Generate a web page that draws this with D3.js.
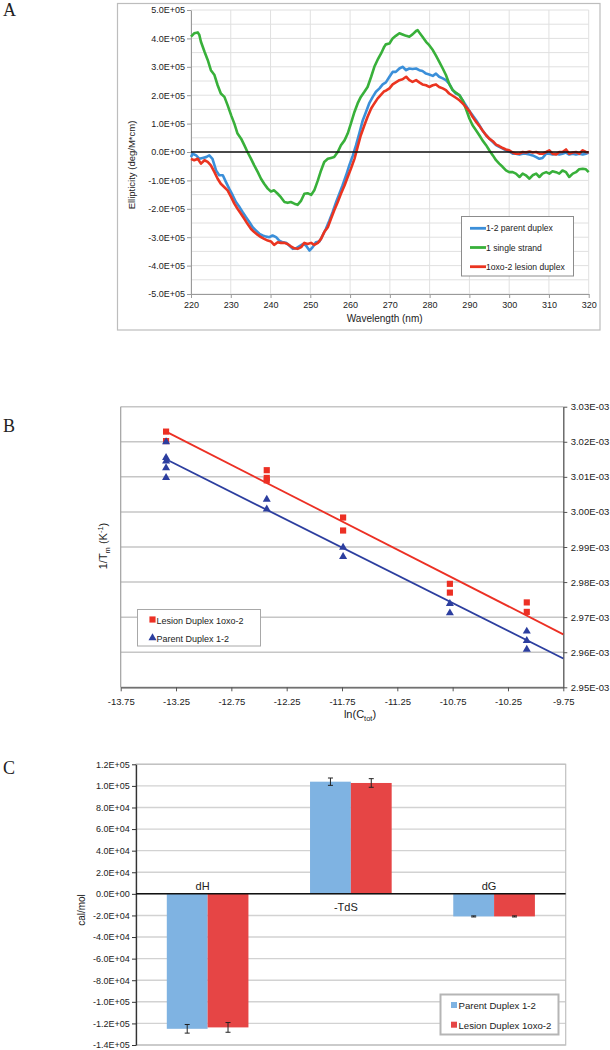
<!DOCTYPE html>
<html><head><meta charset="utf-8">
<script src="https://cdn.jsdelivr.net/npm/d3@7"></script>
<style>
body{margin:0;background:#fff}
svg{display:block}
text{font-family:"Liberation Sans",Arial,Helvetica,sans-serif;fill:#222}
</style>
</head><body>
<svg id="c" width="610" height="1050"></svg>
<script>
// ---------------- DATA ----------------
// Panel A: CD spectra, values in units of 1e5 deg/(M*cm)
const CD_UNIT = 1e5;
const parentDuplex = [[220.0,-0.18],[220.4,-0.06],[221.3,-0.12],[222.1,-0.24],[222.9,-0.21],[223.8,-0.18],[224.6,-0.12],[225.4,-0.24],[226.3,-0.65],[227.1,-0.82],[228.0,-0.82],[228.8,-1.06],[229.6,-1.29],[230.5,-1.53],[231.3,-1.76],[232.2,-1.94],[233.0,-2.12],[233.8,-2.29],[234.7,-2.47],[235.5,-2.65],[236.3,-2.76],[237.2,-2.88],[238.0,-2.94],[238.9,-2.98],[239.7,-3.0],[240.5,-2.94],[241.4,-3.0],[242.2,-3.12],[243.1,-3.18],[243.9,-3.2],[244.7,-3.29],[245.6,-3.41],[246.4,-3.39],[247.2,-3.32],[248.1,-3.24],[248.9,-3.29],[249.8,-3.47],[250.6,-3.35],[251.4,-3.18],[252.3,-3.15],[253.1,-2.94],[253.9,-2.71],[254.8,-2.41],[255.6,-2.12],[256.5,-1.76],[257.3,-1.47],[258.1,-1.18],[259.0,-0.82],[259.8,-0.47],[260.7,-0.12],[261.5,0.24],[262.3,0.65],[263.2,1.12],[264.0,1.41],[264.8,1.71],[265.7,1.94],[266.5,2.12],[267.4,2.24],[268.2,2.38],[269.0,2.45],[269.9,2.65],[270.7,2.82],[271.5,2.82],[272.4,2.94],[273.2,3.0],[274.1,2.88],[274.9,2.94],[275.7,2.92],[276.6,2.94],[277.4,2.88],[278.2,2.85],[279.1,2.76],[279.9,2.73],[280.8,2.68],[281.6,2.76],[282.4,2.65],[283.3,2.59],[284.1,2.53],[284.9,2.41],[285.8,2.18],[286.6,2.06],[287.5,2.0],[288.3,1.82],[289.1,1.65],[290.0,1.44],[290.8,1.29],[291.7,1.12],[292.5,0.94],[293.3,0.76],[294.2,0.59],[295.0,0.47],[295.9,0.35],[296.7,0.24],[297.5,0.18],[298.4,0.12],[299.2,0.06],[300.0,0.02],[300.9,-0.06],[301.7,-0.06],[302.6,-0.09],[303.4,-0.06],[304.2,-0.06],[305.1,-0.09],[305.9,-0.12],[306.8,-0.18],[307.6,-0.24],[308.4,-0.21],[309.3,-0.06],[310.1,-0.06],[310.9,-0.09],[311.8,-0.06],[312.6,-0.09],[313.4,-0.06],[314.3,-0.02],[315.1,-0.09],[316.0,-0.06],[316.8,-0.09],[317.6,-0.06],[318.5,-0.09],[319.3,-0.06],[320.0,-0.02]];
const singleStrand = [[220.0,4.06],[220.8,4.18],[221.7,4.21],[222.1,4.12],[222.5,3.88],[223.4,3.53],[224.2,3.24],[225.0,2.88],[225.9,2.71],[226.7,2.35],[227.5,2.06],[228.4,1.94],[229.2,1.65],[230.1,1.29],[230.9,1.0],[231.7,0.65],[232.6,0.47],[233.4,0.24],[234.2,0.0],[235.1,-0.24],[235.9,-0.47],[236.8,-0.71],[237.6,-0.94],[238.4,-1.12],[239.3,-1.29],[240.1,-1.39],[240.9,-1.35],[241.8,-1.47],[242.6,-1.59],[243.5,-1.76],[244.3,-1.79],[245.1,-1.76],[246.0,-1.82],[246.8,-1.86],[247.7,-1.71],[248.5,-1.47],[249.3,-1.45],[250.2,-1.51],[251.0,-1.35],[251.9,-1.0],[252.7,-0.65],[253.5,-0.35],[254.4,-0.24],[255.2,-0.21],[256.0,-0.18],[256.9,0.0],[257.7,0.24],[258.6,0.41],[259.4,0.65],[260.2,1.0],[261.1,1.41],[261.9,1.71],[262.7,1.94],[263.6,2.12],[264.4,2.29],[265.3,2.65],[266.1,3.0],[266.9,3.24],[267.8,3.47],[268.6,3.71],[269.0,3.79],[269.9,3.82],[270.7,4.0],[271.5,4.09],[272.4,4.18],[273.2,4.14],[274.1,4.09],[274.9,4.06],[275.7,4.14],[276.6,4.26],[277.0,4.29],[277.4,4.21],[278.2,4.06],[279.1,3.88],[279.9,3.76],[280.8,3.59],[281.6,3.39],[282.4,3.18],[283.3,2.94],[284.1,2.71],[284.9,2.41],[285.8,2.18],[286.6,2.09],[287.5,2.0],[288.3,1.82],[289.1,1.53],[290.0,1.18],[290.8,0.94],[291.7,0.76],[292.5,0.59],[293.3,0.41],[294.2,0.24],[295.0,0.06],[295.9,-0.12],[296.7,-0.29],[297.5,-0.41],[298.4,-0.53],[299.2,-0.65],[300.0,-0.71],[300.9,-0.71],[301.7,-0.76],[302.6,-0.88],[303.4,-0.76],[304.2,-0.82],[305.1,-0.94],[305.9,-0.82],[306.8,-0.76],[307.6,-0.88],[308.4,-0.76],[309.3,-0.71],[310.1,-0.76],[310.9,-0.68],[311.8,-0.71],[312.6,-0.76],[313.4,-0.65],[314.3,-0.71],[315.1,-0.88],[316.0,-0.76],[316.8,-0.71],[317.6,-0.61],[318.5,-0.59],[319.3,-0.61],[320.0,-0.71]];
const lesionDuplex = [[220.0,-0.24],[220.8,-0.29],[221.7,-0.24],[222.5,-0.41],[223.4,-0.29],[224.2,-0.35],[225.0,-0.47],[225.9,-0.71],[226.7,-0.94],[227.5,-1.12],[228.4,-1.24],[229.2,-1.35],[230.1,-1.59],[230.9,-1.82],[231.7,-2.0],[232.6,-2.18],[233.4,-2.35],[234.2,-2.53],[235.1,-2.71],[235.9,-2.82],[236.8,-2.92],[237.6,-3.0],[238.4,-3.06],[239.3,-3.12],[240.1,-3.15],[240.9,-3.27],[241.8,-3.18],[242.6,-3.2],[243.5,-3.2],[244.3,-3.24],[245.1,-3.32],[246.0,-3.39],[246.8,-3.41],[247.7,-3.35],[248.5,-3.2],[249.3,-3.24],[250.2,-3.2],[251.0,-3.27],[251.9,-3.2],[252.7,-3.06],[253.5,-2.82],[254.4,-2.65],[255.2,-2.35],[256.0,-2.06],[256.9,-1.76],[257.7,-1.47],[258.6,-1.18],[259.4,-0.88],[260.2,-0.59],[261.1,-0.24],[261.9,0.18],[262.7,0.59],[263.6,0.94],[264.4,1.24],[265.3,1.53],[266.1,1.71],[266.9,1.88],[267.8,2.02],[268.6,2.14],[269.0,2.16],[269.9,2.24],[270.7,2.38],[271.5,2.45],[272.4,2.53],[273.2,2.56],[274.1,2.65],[274.9,2.53],[275.7,2.47],[276.6,2.53],[277.4,2.45],[278.2,2.38],[279.1,2.35],[279.9,2.29],[280.8,2.35],[281.6,2.38],[282.4,2.29],[283.3,2.24],[284.1,2.18],[284.9,2.06],[285.8,1.98],[286.6,1.91],[287.5,1.82],[288.3,1.71],[289.1,1.59],[290.0,1.44],[290.8,1.24],[291.7,1.06],[292.5,0.92],[293.3,0.76],[294.2,0.59],[295.0,0.47],[295.9,0.38],[296.7,0.26],[297.5,0.21],[298.4,0.14],[299.2,0.09],[300.0,0.06],[300.9,-0.02],[301.7,-0.06],[302.6,-0.06],[303.4,0.0],[304.2,-0.02],[305.1,0.02],[305.9,-0.02],[306.8,0.0],[307.6,-0.06],[308.4,-0.06],[309.3,0.0],[310.1,0.06],[310.9,-0.06],[311.8,-0.09],[312.6,0.0],[313.4,0.0],[314.3,0.09],[315.1,-0.06],[316.0,-0.02],[316.8,0.0],[317.6,-0.06],[318.5,0.06],[319.3,0.0],[320.0,-0.02]];
const cdSeriesNames = ["1-2 parent duplex","1 single strand","1oxo-2 lesion duplex"];
const cdXTicks = [220,230,240,250,260,270,280,290,300,310,320];

// Panel B: van't Hoff data, 1/Tm in units of 1e-3 K^-1
const TM_UNIT = 1e-3;
const lnCtot = [-13.34, -12.43, -11.74, -10.775, -10.08];
const lesionInvTm = [[3.0229,3.0202],[3.0119,3.0097,3.0090],[2.9984,2.9947],[2.9795,2.9770],[2.9742,2.9715]];
const parentInvTm = [[3.0202,3.0157,3.0147,3.0128,3.0100],[3.0038,3.0010],[2.9901,2.9875],[2.9741,2.9714],[2.9662,2.9635,2.9610]];
const lesionFit = [[-13.34,3.0229],[-9.75,2.9651]];
const parentFit = [[-13.34,3.0150],[-9.75,2.9582]];
const lnXTicks = [-13.75,-13.25,-12.75,-12.25,-11.75,-11.25,-10.75,-10.25,-9.75];
const invTmTicks = [2.95,2.96,2.97,2.98,2.99,3.00,3.01,3.02,3.03];
const vhNames = ["Lesion Duplex 1oxo-2","Parent Duplex 1-2"];

// Panel C: thermodynamic parameters (cal/mol)
const thermoCats = ["dH","-TdS","dG"];
const parentThermo = [-125000, 103900, -20900];
const lesionThermo = [-123700, 102700, -20900];
const parentErr = [4000, 3400, 500];
const lesionErr = [4500, 4000, 500];
const thermoNames = ["Parent Duplex 1-2","Lesion Duplex 1oxo-2"];

// ---------------- HELPERS ----------------
const svg = d3.select('#c');
function sci(d){ return v => { if (Math.abs(v) < 1e-15) v = 0; const [m,e] = v.toExponential(d).split('e'); const s = e[0]==='-'?'-':'+'; return m+'E'+s+e.replace(/[+-]/,'').padStart(2,'0'); }; }
function styleAxis(g, fs, domainColor, tickColor){
  g.attr('font-family', null).attr('font-size', null);
  g.selectAll('text').attr('font-size', fs).style('fill','#222');
  g.select('.domain').attr('stroke', domainColor).attr('stroke-width',1);
  g.selectAll('.tick line').attr('stroke', tickColor);
}
function label(x,y,txt,opts={}){
  const t = svg.append('text').attr('x',x).attr('y',y).text(txt)
    .attr('font-size',opts.size||10).attr('text-anchor',opts.anchor||'middle');
  if (opts.rot) t.attr('transform',`rotate(-90,${x},${y})`);
  if (opts.family) t.style('font-family',opts.family);
  return t;
}

// ---------------- PANEL A ----------------
const cdColors = ['#3b8fd9','#38b03a','#ea3420'];
const A = {l:191, r:588.7, t:10, b:294};
const xA = d3.scaleLinear().domain([220,320]).range([A.l,A.r]);
const yA = d3.scaleLinear().domain([-5*CD_UNIT,5*CD_UNIT]).range([A.b,A.t]);
svg.append('rect').attr('x',117.5).attr('y',3.5).attr('width',482.5).attr('height',326.5)
  .attr('fill','none').attr('stroke','#bdbdbd').attr('stroke-width',1.2);
const gA = svg.append('g');
gA.selectAll('.hg').data(d3.range(-10,11).map(k=>k*CD_UNIT/2)).join('line')
  .attr('x1',A.l).attr('x2',A.r).attr('y1',d=>yA(d)).attr('y2',d=>yA(d))
  .attr('stroke','#e0e0e0').attr('stroke-width',1);
gA.selectAll('.vg').data(cdXTicks).join('line')
  .attr('x1',d=>xA(d)).attr('x2',d=>xA(d)).attr('y1',A.t).attr('y2',A.b)
  .attr('stroke','#e0e0e0').attr('stroke-width',1);
const axA_y = svg.append('g').attr('transform',`translate(${A.l},0)`)
  .call(d3.axisLeft(yA).tickValues(d3.range(-5,6).map(k=>k*CD_UNIT)).tickFormat(sci(1)).tickSize(4).tickSizeOuter(0).tickPadding(2));
styleAxis(axA_y, 9, '#9a9a9a', '#9a9a9a');
const axA_x = svg.append('g').attr('transform',`translate(0,${A.b})`)
  .call(d3.axisBottom(xA).tickValues(cdXTicks).tickFormat(d=>String(d)).tickSize(4).tickSizeOuter(0).tickPadding(4));
styleAxis(axA_x, 9, '#9a9a9a', '#9a9a9a');
const lineA = d3.line().x(d=>xA(d[0])).y(d=>yA(d[1]*CD_UNIT));
[parentDuplex, singleStrand, lesionDuplex].forEach((s,i)=>{
  svg.append('path').datum(s).attr('d',lineA).attr('fill','none')
    .attr('stroke',cdColors[i]).attr('stroke-width',2.6).attr('stroke-linejoin','round');
});
svg.append('line').attr('x1',A.l).attr('x2',A.r).attr('y1',yA(0)).attr('y2',yA(0))
  .attr('stroke','#111').attr('stroke-width',1.3);
label(384.7,321.5,'Wavelength (nm)',{size:10});
label(134.5,165,'Ellipticity (deg/M*cm)',{size:9.5,rot:true});
// legend A
const lgA = svg.append('g');
lgA.append('rect').attr('x',461.5).attr('y',216.5).attr('width',112).attr('height',59.5)
  .attr('fill','#fff').attr('stroke','#8c8c8c').attr('stroke-width',1);
cdSeriesNames.forEach((n,i)=>{
  const y = 228.3 + i*19.2;
  lgA.append('line').attr('x1',470).attr('x2',486).attr('y1',y).attr('y2',y)
    .attr('stroke',cdColors[i]).attr('stroke-width',2.8);
  lgA.append('text').attr('x',486).attr('y',y+3).attr('font-size',8.6).text(n);
});
label(3,16,'A',{size:18,anchor:'start',family:'"Liberation Serif","Times New Roman",serif'});

// ---------------- PANEL B ----------------
const B = {l:120.7, r:563.3, t:406.7, b:687.3};
const xB = d3.scaleLinear().domain([-13.75,-9.75]).range([B.l,B.r]);
const yB = d3.scaleLinear().domain([2.95*TM_UNIT,3.03*TM_UNIT]).range([B.b,B.t]);
const yBt = invTmTicks.map(v=>v*TM_UNIT);
svg.append('g').selectAll('line').data(yBt).join('line')
  .attr('x1',B.l).attr('x2',B.r).attr('y1',d=>yB(d)).attr('y2',d=>yB(d))
  .attr('stroke','#c6c6c6').attr('stroke-width',1.5);
svg.append('line').attr('x1',B.l).attr('x2',B.l).attr('y1',B.t).attr('y2',B.b)
  .attr('stroke','#a0a0a0').attr('stroke-width',1.2);
const axB_x = svg.append('g').attr('transform',`translate(0,${B.b})`)
  .call(d3.axisBottom(xB).tickValues(lnXTicks).tickFormat(d=>d.toFixed(2)).tickSize(4).tickSizeOuter(0).tickPadding(7));
styleAxis(axB_x, 9.5, '#555', '#555');
axB_x.select('.domain').attr('stroke-width',1.3);
const axB_y = svg.append('g').attr('transform',`translate(${B.r},0)`)
  .call(d3.axisRight(yB).tickValues(yBt).tickFormat(sci(2)).tickSize(4).tickSizeOuter(0).tickPadding(3.4));
styleAxis(axB_y, 9.5, '#555', '#555');
axB_y.select('.domain').attr('stroke-width',1.3);
const lineB = d3.line().x(d=>xB(d[0])).y(d=>yB(d[1]*TM_UNIT));
const redB = '#ec3024', blueB = '#2c3e9f';
svg.append('path').datum(lesionFit).attr('d',lineB).attr('stroke',redB).attr('stroke-width',1.8).attr('fill','none');
svg.append('path').datum(parentFit).attr('d',lineB).attr('stroke',blueB).attr('stroke-width',1.8).attr('fill','none');
const lesionPts = lnCtot.flatMap((x,i)=>lesionInvTm[i].map(v=>[x,v]));
const parentPts = lnCtot.flatMap((x,i)=>parentInvTm[i].map(v=>[x,v]));
const sq = d3.symbol().type(d3.symbolSquare).size(38);
const tri = d3.symbol().type(d3.symbolTriangle).size(28);
svg.append('g').selectAll('path').data(lesionPts).join('path')
  .attr('d',sq).attr('transform',d=>`translate(${xB(d[0])},${yB(d[1]*TM_UNIT)})`).attr('fill',redB);
svg.append('g').selectAll('path').data(parentPts).join('path')
  .attr('d',tri).attr('transform',d=>`translate(${xB(d[0])},${yB(d[1]*TM_UNIT)+0.8})`).attr('fill',blueB);
// axis titles
const tB = svg.append('text').attr('x',360).attr('y',718).attr('text-anchor','middle').attr('font-size',11);
tB.append('tspan').text('ln(C');
tB.append('tspan').text('tot').attr('font-size',7.5).attr('dy',2.5);
tB.append('tspan').text(')').attr('dy',-2.5);
const yTB = svg.append('text').attr('x',107).attr('y',546).attr('text-anchor','middle').attr('font-size',11)
  .attr('transform','rotate(-90,107,546)');
yTB.append('tspan').text('1/T');
yTB.append('tspan').text('m').attr('font-size',7.5).attr('dy',2.5);
yTB.append('tspan').text(' (K').attr('dy',-2.5);
yTB.append('tspan').text('-1').attr('font-size',7.5).attr('dy',-4);
yTB.append('tspan').text(')').attr('dy',4);
// legend B
const lgB = svg.append('g');
lgB.append('rect').attr('x',137.5).attr('y',609.5).attr('width',123).attr('height',36.5)
  .attr('fill','#fff').attr('stroke','#a8a8a8').attr('stroke-width',1);
lgB.append('path').attr('d',sq).attr('transform','translate(152.5,619.5)').attr('fill',redB);
lgB.append('text').attr('x',156.5).attr('y',623.5).attr('font-size',9).text(vhNames[0]);
lgB.append('path').attr('d',tri).attr('transform','translate(152.5,638)').attr('fill',blueB);
lgB.append('text').attr('x',156.5).attr('y',641.5).attr('font-size',9).text(vhNames[1]);
label(3,432,'B',{size:18,anchor:'start',family:'"Liberation Serif","Times New Roman",serif'});

// ---------------- PANEL C ----------------
const C = {l:136, r:565.7, t:764.3, b:1045};
const yC = d3.scaleLinear().domain([-1.4e5,1.2e5]).range([C.b,C.t]);
const xC = d3.scaleBand().domain(thermoCats).range([C.l,C.r]).paddingInner(0.43).paddingOuter(0.215);
const xSub = d3.scaleBand().domain([0,1]).range([0,xC.bandwidth()]);
const yCt = d3.range(-7,7).map(k=>k*2e4);
svg.append('g').selectAll('line').data(yCt).join('line')
  .attr('x1',C.l).attr('x2',C.r).attr('y1',d=>yC(d)).attr('y2',d=>yC(d))
  .attr('stroke','#d2d2d2').attr('stroke-width',1.4);
svg.append('rect').attr('x',C.l).attr('y',C.t).attr('width',C.r-C.l).attr('height',C.b-C.t)
  .attr('fill','none').attr('stroke','#c0c0c0').attr('stroke-width',1.2);
const axC = svg.append('g').attr('transform',`translate(${C.l},0)`)
  .call(d3.axisLeft(yC).tickValues(yCt).tickFormat(sci(1)).tickSize(4).tickSizeOuter(0).tickPadding(2.3));
styleAxis(axC, 9, '#333', '#333');
axC.select('.domain').attr('stroke-width',1.3);
const barColors = ['#7fb3e2','#e64545'];
const barSeries = [parentThermo, lesionThermo];
const errSeries = [parentErr, lesionErr];
barSeries.forEach((vals,s)=>{
  svg.append('g').selectAll('rect').data(vals).join('rect')
    .attr('x',(d,i)=>xC(thermoCats[i])+xSub(s))
    .attr('width',xSub.bandwidth())
    .attr('y',d=>yC(Math.max(0,d)))
    .attr('height',d=>Math.abs(yC(d)-yC(0)))
    .attr('fill',barColors[s]);
});
barSeries.forEach((vals,s)=>{
  const g = svg.append('g').attr('stroke','#222').attr('stroke-width',1);
  vals.forEach((v,i)=>{
    const cx = xC(thermoCats[i])+xSub(s)+xSub.bandwidth()/2;
    const e = errSeries[s][i];
    g.append('line').attr('x1',cx).attr('x2',cx).attr('y1',yC(v-e)).attr('y2',yC(v+e));
    g.append('line').attr('x1',cx-2.5).attr('x2',cx+2.5).attr('y1',yC(v-e)).attr('y2',yC(v-e));
    g.append('line').attr('x1',cx-2.5).attr('x2',cx+2.5).attr('y1',yC(v+e)).attr('y2',yC(v+e));
  });
});
svg.append('line').attr('x1',C.l).attr('x2',C.r).attr('y1',yC(0)).attr('y2',yC(0))
  .attr('stroke','#111').attr('stroke-width',1.5);
thermoCats.forEach((c,i)=>{
  const neg = parentThermo[i] < 0;
  label(xC(c)+xC.bandwidth()/2-5, neg ? yC(0)-3.5 : yC(0)+17.5, c, {size:11});
});
label(84.5,910,'cal/mol',{size:10,rot:true});
// legend C
const lgC = svg.append('g');
lgC.append('rect').attr('x',440.5).attr('y',994.5).attr('width',118).attr('height',40)
  .attr('fill','#fff').attr('stroke','#b5b5b5').attr('stroke-width',2);
thermoNames.forEach((n,i)=>{
  const y = 1005 + i*19.7;
  lgC.append('rect').attr('x',451).attr('y',y-3).attr('width',6).attr('height',6).attr('fill',barColors[i]);
  lgC.append('text').attr('x',458.5).attr('y',y+4.2).attr('font-size',9.6).text(n);
});
label(3,774,'C',{size:18,anchor:'start',family:'"Liberation Serif","Times New Roman",serif'});
</script>
</body></html>
